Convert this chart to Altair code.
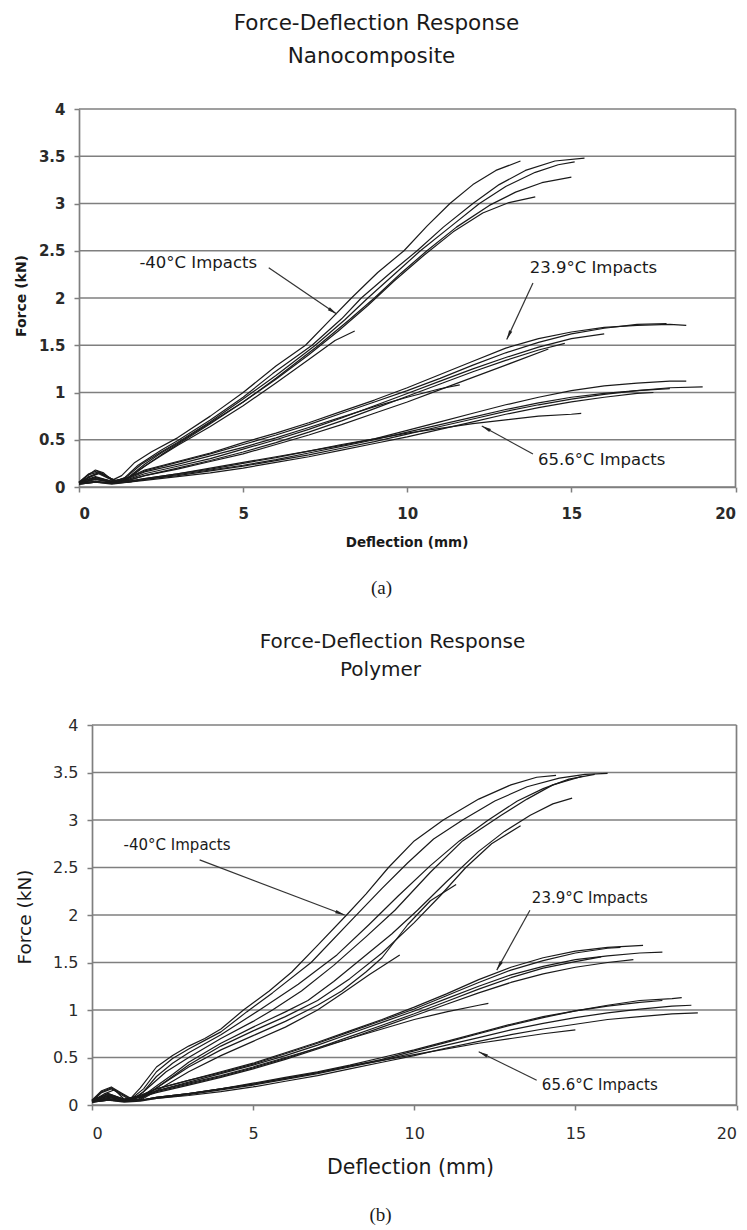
import math
import altair as alt
import pandas as pd

# ---------------- (a) Nanocomposite : force (kN) vs deflection (mm) ----------------
NC_M40_A = [(0,0.04),(0.25,0.12),(0.5,0.18),(0.75,0.15),(1.0,0.07),(1.3,0.12),(1.7,0.26),(2.2,0.37),(3,0.52),(4,0.75),(5,1.0),(6,1.28),(6.9,1.5),(7.6,1.75),(8.3,2.0),(9.1,2.27),(9.9,2.5),(10.6,2.76),(11.3,3.0),(12,3.2),(12.7,3.35),(13.45,3.45)]
NC_M40_B = [(0,0.05),(0.3,0.14),(0.55,0.17),(0.8,0.13),(1.1,0.06),(1.4,0.1),(1.8,0.23),(2.5,0.39),(3,0.49),(4,0.71),(5,0.95),(5.9,1.2),(7.1,1.5),(8.0,1.78),(8.6,2.0),(9.5,2.27),(10.3,2.5),(11.1,2.75),(12.0,3.0),(12.8,3.2),(13.6,3.35),(14.5,3.45),(15.4,3.48)]
NC_M40_C = [(0,0.05),(0.3,0.13),(0.6,0.16),(0.9,0.1),(1.2,0.06),(1.5,0.12),(1.9,0.24),(2.5,0.37),(3,0.47),(4,0.69),(5,0.93),(6,1.18),(7.2,1.5),(8.1,1.77),(8.8,2.0),(9.7,2.28),(10.4,2.5),(11.3,2.75),(12.2,3.0),(13.0,3.18),(13.9,3.33),(14.6,3.41),(15.1,3.44)]
NC_M40_D = [(0,0.04),(0.3,0.11),(0.6,0.15),(0.9,0.1),(1.2,0.05),(1.5,0.1),(2,0.24),(2.5,0.36),(3,0.46),(4,0.68),(5,0.9),(6,1.15),(7.3,1.5),(8.2,1.76),(9.0,2.0),(9.8,2.26),(10.6,2.5),(11.5,2.75),(12.5,2.98),(13.3,3.12),(14.1,3.22),(15.0,3.28)]
NC_M40_E = [(0,0.04),(0.3,0.1),(0.6,0.14),(0.9,0.09),(1.2,0.05),(1.5,0.09),(2,0.22),(2.5,0.34),(3,0.45),(4,0.67),(5,0.9),(6,1.14),(7,1.4),(7.9,1.65),(8.8,1.92),(9.6,2.18),(10.5,2.45),(11.4,2.7),(12.3,2.9),(13.1,3.01),(13.9,3.07)]
NC_M40_F = [(0,0.04),(0.3,0.1),(0.6,0.15),(0.9,0.1),(1.2,0.05),(1.5,0.1),(2,0.22),(2.5,0.33),(3,0.44),(4,0.64),(5,0.86),(6,1.1),(7,1.35),(7.8,1.55),(8.4,1.65)]

NC_23_A = [(0,0.05),(0.5,0.1),(1,0.06),(1.5,0.1),(2,0.18),(3,0.27),(4,0.36),(5,0.47),(6,0.57),(7,0.68),(8,0.8),(9,0.92),(10,1.05),(11,1.19),(12,1.33),(13,1.47),(14,1.57),(15,1.64),(16,1.69),(17,1.71),(18,1.72),(18.5,1.71)]
NC_23_B = [(0,0.05),(0.5,0.11),(1,0.06),(1.5,0.1),(2,0.17),(3,0.26),(4,0.35),(5,0.45),(6,0.55),(7,0.66),(8,0.78),(9,0.9),(10,1.02),(11,1.15),(12,1.29),(13,1.42),(14,1.53),(15,1.62),(16,1.68),(17,1.72),(17.9,1.73)]
NC_23_C = [(0,0.04),(0.5,0.09),(1,0.05),(1.5,0.08),(2,0.14),(3,0.22),(4,0.3),(5,0.4),(6,0.5),(7,0.61),(8,0.73),(9,0.86),(10,0.99),(11,1.12),(12,1.25),(13,1.37),(14,1.48),(15,1.57),(16,1.62)]
NC_23_D = [(0,0.04),(0.5,0.08),(1,0.05),(1.5,0.07),(2,0.12),(3,0.2),(4,0.28),(5,0.37),(6,0.47),(7,0.58),(8,0.7),(9,0.83),(10,0.96),(11,1.09),(12,1.22),(13,1.34),(14,1.45),(14.8,1.52)]
NC_23_E = [(0,0.04),(0.5,0.08),(1,0.05),(1.5,0.07),(2,0.12),(3,0.19),(4,0.27),(5,0.35),(6,0.45),(7,0.55),(8,0.66),(9,0.78),(10,0.9),(11,1.03),(12,1.16),(13,1.29),(14.3,1.46)]
NC_23_F = [(0,0.05),(0.5,0.1),(1,0.06),(1.5,0.09),(2,0.16),(3,0.24),(4,0.33),(5,0.42),(6,0.52),(7,0.63),(8,0.74),(9,0.85),(10,0.95),(11,1.04),(11.6,1.08)]

NC_65_A = [(0,0.04),(0.5,0.06),(1,0.04),(1.5,0.06),(2,0.09),(3,0.14),(4,0.2),(5,0.26),(6,0.32),(7,0.38),(8,0.44),(9,0.51),(10,0.6),(11,0.69),(12,0.78),(13,0.87),(14,0.95),(15,1.02),(16,1.07),(17,1.1),(18,1.12),(18.5,1.12)]
NC_65_B = [(0,0.03),(0.5,0.05),(1,0.04),(1.5,0.05),(2,0.08),(3,0.12),(4,0.17),(5,0.22),(6,0.28),(7,0.34),(8,0.41),(9,0.48),(10,0.56),(11,0.64),(12,0.72),(13,0.8),(14,0.87),(15,0.93),(16,0.98),(17,1.02),(18,1.05),(19,1.06)]
NC_65_C = [(0,0.03),(0.5,0.05),(1,0.03),(1.5,0.05),(2,0.07),(3,0.11),(4,0.15),(5,0.2),(6,0.26),(7,0.32),(8,0.39),(9,0.46),(10,0.53),(11,0.61),(12,0.69),(13,0.77),(14,0.84),(15,0.9),(16,0.95),(17,0.99),(17.5,1.0)]
NC_65_D = [(0,0.04),(0.5,0.06),(1,0.04),(1.5,0.06),(2,0.09),(3,0.14),(4,0.19),(5,0.25),(6,0.31),(7,0.38),(8,0.45),(9,0.51),(10,0.57),(11,0.62),(12,0.67),(13,0.71),(14,0.75),(15,0.77),(15.3,0.78)]
NC_65_E = [(0,0.03),(0.5,0.05),(1,0.04),(1.5,0.05),(2,0.08),(3,0.13),(4,0.18),(5,0.23),(6,0.29),(7,0.36),(8,0.43),(9,0.5),(10,0.58),(11,0.66),(12,0.74),(13,0.82),(14,0.89),(15,0.95),(16,0.99),(17,1.02),(18,1.04)]

# ---------------- (b) Polymer ----------------
PM_M40_A = [(0,0.05),(0.3,0.15),(0.6,0.19),(0.9,0.13),(1.2,0.07),(1.5,0.18),(2,0.4),(2.5,0.52),(3,0.62),(3.5,0.7),(4,0.8),(4.7,1.0),(5.5,1.2),(6.2,1.4),(7,1.68),(7.9,2.0),(8.5,2.22),(9.2,2.5),(10,2.78),(10.9,3.0),(12,3.22),(13,3.37),(13.8,3.45),(14.4,3.47)]
PM_M40_B = [(0,0.04),(0.3,0.14),(0.6,0.18),(0.9,0.12),(1.2,0.06),(1.6,0.17),(2,0.35),(2.5,0.49),(3,0.59),(3.5,0.68),(4,0.77),(4.8,0.98),(5.6,1.18),(6.8,1.5),(8.15,1.98),(9.0,2.28),(9.8,2.55),(10.6,2.8),(11.5,3.0),(12.5,3.2),(13.5,3.35),(14.5,3.44),(15.3,3.48),(16,3.49)]
PM_M40_C = [(0,0.04),(0.3,0.13),(0.6,0.17),(0.9,0.11),(1.2,0.05),(1.6,0.14),(2,0.3),(2.5,0.44),(3,0.55),(4,0.74),(5.2,1.0),(6.4,1.27),(7.6,1.58),(8.6,1.9),(9.5,2.2),(10.5,2.52),(11.4,2.78),(12.3,3.0),(13.2,3.2),(14,3.33),(14.8,3.43),(15.6,3.48)]
PM_M40_D = [(0,0.04),(0.4,0.12),(0.7,0.16),(1.0,0.06),(1.3,0.05),(1.8,0.2),(2.3,0.35),(3,0.5),(4,0.7),(5,0.88),(5.6,1.0),(6.5,1.2),(7.5,1.47),(8.5,1.77),(9.4,2.05),(10.5,2.45),(11.5,2.78),(12.7,3.05),(13.5,3.22),(14.3,3.37),(15.2,3.46)]
PM_M40_E = [(0,0.03),(0.5,0.1),(1,0.05),(1.4,0.05),(2,0.2),(2.5,0.32),(3,0.45),(4,0.65),(5,0.82),(6,0.98),(6.7,1.1),(7.5,1.3),(8.4,1.55),(9.3,1.8),(10.1,2.05),(11,2.35),(12,2.67),(12.8,2.88),(13.6,3.05),(14.3,3.17),(14.9,3.23)]
PM_M40_F = [(0,0.03),(0.5,0.08),(1,0.05),(1.5,0.06),(2,0.18),(3,0.42),(4,0.62),(5,0.78),(6,0.93),(7,1.1),(8,1.33),(9,1.6),(10,1.92),(10.8,2.2),(11.6,2.5),(12.4,2.75),(13.3,2.94)]
PM_M40_G = [(0,0.03),(0.5,0.08),(1,0.05),(1.5,0.06),(2,0.18),(3,0.4),(4,0.58),(5,0.73),(6,0.88),(7,1.05),(7.75,1.2),(8.5,1.4),(9.0,1.55),(9.8,1.9),(10.5,2.15),(11.3,2.32)]
PM_M40_H = [(0,0.03),(0.5,0.07),(1,0.04),(1.5,0.05),(2,0.15),(3,0.35),(4,0.52),(5,0.67),(6,0.82),(7,1.0),(7.75,1.17),(8.6,1.37),(9.55,1.58)]

PM_23_A = [(0,0.05),(0.5,0.12),(1,0.06),(1.5,0.1),(2,0.17),(3,0.26),(4,0.35),(5,0.44),(6,0.55),(7,0.66),(8,0.78),(9,0.9),(10,1.03),(11,1.17),(12,1.32),(13,1.45),(14,1.55),(15,1.62),(16,1.66),(17.1,1.68)]
PM_23_B = [(0,0.05),(0.5,0.11),(1,0.06),(1.5,0.09),(2,0.15),(3,0.24),(4,0.33),(5,0.42),(6,0.52),(7,0.63),(8,0.75),(9,0.87),(10,0.99),(11,1.12),(12,1.25),(13,1.37),(14,1.46),(15,1.53),(16,1.57),(17,1.6),(17.7,1.61)]
PM_23_C = [(0,0.04),(0.5,0.09),(1,0.05),(1.5,0.08),(2,0.13),(3,0.21),(4,0.29),(5,0.38),(6,0.48),(7,0.59),(8,0.7),(9,0.82),(10,0.94),(11,1.06),(12,1.18),(13,1.29),(14,1.38),(15,1.45),(16,1.5),(16.8,1.53)]
PM_23_D = [(0,0.05),(0.5,0.12),(1,0.06),(1.5,0.1),(2,0.17),(3,0.26),(4,0.34),(5,0.43),(6,0.54),(7,0.65),(8,0.77),(9,0.89),(10,1.01),(11,1.15),(12,1.29),(13,1.42),(14,1.52),(15,1.6),(16,1.65),(16.4,1.66)]
PM_23_E = [(0,0.04),(0.5,0.1),(1,0.05),(1.5,0.08),(2,0.14),(3,0.22),(4,0.3),(5,0.39),(6,0.49),(7,0.6),(8,0.72),(9,0.84),(10,0.96),(11,1.09),(12,1.22),(13,1.34),(14,1.44),(15,1.51),(15.8,1.56)]
PM_23_F = [(0,0.05),(0.5,0.1),(1,0.06),(1.5,0.09),(2,0.15),(3,0.23),(4,0.31),(5,0.4),(6,0.5),(7,0.6),(8,0.7),(9,0.8),(10,0.9),(11,0.98),(12,1.05),(12.3,1.07)]

PM_65_A = [(0,0.04),(0.5,0.06),(1,0.04),(1.5,0.05),(2,0.08),(3,0.12),(4,0.17),(5,0.22),(6,0.28),(7,0.34),(8,0.41),(9,0.48),(10,0.57),(11,0.66),(12,0.75),(13,0.84),(14,0.92),(15,0.99),(16,1.05),(17,1.1),(18,1.12),(18.3,1.13)]
PM_65_B = [(0,0.03),(0.5,0.05),(1,0.04),(1.5,0.05),(2,0.07),(3,0.11),(4,0.16),(5,0.21),(6,0.27),(7,0.33),(8,0.4),(9,0.47),(10,0.55),(11,0.63),(12,0.71),(13,0.79),(14,0.86),(15,0.92),(16,0.97),(17,1.01),(18,1.04),(18.6,1.05)]
PM_65_C = [(0,0.03),(0.5,0.05),(1,0.03),(1.5,0.04),(2,0.07),(3,0.1),(4,0.14),(5,0.19),(6,0.25),(7,0.31),(8,0.38),(9,0.45),(10,0.52),(11,0.6),(12,0.67),(13,0.74),(14,0.8),(15,0.85),(16,0.9),(17,0.93),(18,0.96),(18.8,0.97)]
PM_65_D = [(0,0.04),(0.5,0.06),(1,0.04),(1.5,0.05),(2,0.08),(3,0.12),(4,0.17),(5,0.22),(6,0.28),(7,0.34),(8,0.41),(9,0.47),(10,0.53),(11,0.59),(12,0.65),(13,0.7),(14,0.75),(15,0.79)]
PM_65_E = [(0,0.03),(0.5,0.05),(1,0.04),(1.5,0.05),(2,0.08),(3,0.12),(4,0.17),(5,0.23),(6,0.29),(7,0.35),(8,0.42),(9,0.5),(10,0.58),(11,0.67),(12,0.76),(13,0.85),(14,0.93),(15,0.99),(16,1.04),(17,1.08),(17.7,1.1)]

# ---------------- annotations (data coordinates) ----------------
LABELS = ["-40°C Impacts", "23.9°C Impacts", "65.6°C Impacts"]
TOP_LABEL_X = [1.84, 13.73, 13.98]
TOP_LABEL_Y = [2.37, 2.32, 0.29]
TOP_FROM_X = [5.78, 13.83, 13.83]
TOP_FROM_Y = [2.32, 2.16, 0.35]
TOP_TIP_X = [7.85, 13.03, 12.27]
TOP_TIP_Y = [1.83, 1.56, 0.645]

BOT_LABEL_X = [0.98, 13.65, 13.96]
BOT_LABEL_Y = [2.74, 2.18, 0.21]
BOT_FROM_X = [3.34, 13.59, 13.8]
BOT_FROM_Y = [2.58, 2.05, 0.26]
BOT_TIP_X = [7.84, 12.56, 12.0]
BOT_TIP_Y = [2.0, 1.42, 0.56]

X_TICKS = [0, 5, 10, 15, 20]
Y_TICKS = [0, 0.5, 1, 1.5, 2, 2.5, 3, 3.5, 4]

TOP_CURVES = {"NC_M40_A": NC_M40_A, "NC_M40_B": NC_M40_B, "NC_M40_C": NC_M40_C,
              "NC_M40_D": NC_M40_D, "NC_M40_E": NC_M40_E, "NC_M40_F": NC_M40_F,
              "NC_23_A": NC_23_A, "NC_23_B": NC_23_B, "NC_23_C": NC_23_C,
              "NC_23_D": NC_23_D, "NC_23_E": NC_23_E, "NC_23_F": NC_23_F,
              "NC_65_A": NC_65_A, "NC_65_B": NC_65_B, "NC_65_C": NC_65_C,
              "NC_65_D": NC_65_D, "NC_65_E": NC_65_E}
BOT_CURVES = {"PM_M40_A": PM_M40_A, "PM_M40_B": PM_M40_B, "PM_M40_C": PM_M40_C,
              "PM_M40_D": PM_M40_D, "PM_M40_E": PM_M40_E, "PM_M40_F": PM_M40_F,
              "PM_M40_G": PM_M40_G, "PM_M40_H": PM_M40_H,
              "PM_23_A": PM_23_A, "PM_23_B": PM_23_B, "PM_23_C": PM_23_C,
              "PM_23_D": PM_23_D, "PM_23_E": PM_23_E, "PM_23_F": PM_23_F,
              "PM_65_A": PM_65_A, "PM_65_B": PM_65_B, "PM_65_C": PM_65_C,
              "PM_65_D": PM_65_D, "PM_65_E": PM_65_E}

FONT = "DejaVu Sans"
GRID = "#7f7f7f"
INK = "#1a1a1a"
ARROW_HEAD = "M0,0L0.36,2L-0.36,2Z"

alt.data_transformers.disable_max_rows()


def curves_df(curves):
    rows = []
    for name, pts in curves.items():
        for i, (x, y) in enumerate(pts):
            rows.append({"curve": name, "i": i, "x": x, "y": y})
    return pd.DataFrame(rows)


def ann_df(lx, ly, fx, fy, tx, ty, sx, sy):
    ang = []
    for a, b, c, d in zip(fx, fy, tx, ty):
        dx = (c - a) * sx
        dy = -(d - b) * sy
        ang.append((math.degrees(math.atan2(dx, -dy)) + 360) % 360)
    return pd.DataFrame({"label": LABELS, "lx": lx, "ly": ly, "fx": fx, "fy": fy,
                         "tx": tx, "ty": ty, "ang": ang})


def one():
    return pd.DataFrame({"k": [0]})


def txt(text, x, y, size, weight="normal", font=FONT, angle=0):
    kw = dict(font=font, fontSize=size, fontWeight=weight, color=INK,
              align="center", baseline="middle")
    if angle:
        kw["angle"] = angle
    return alt.Chart(one()).mark_text(**kw).encode(
        x=alt.value(x), y=alt.value(y), text=alt.value(text))


def anchor(x, y):
    return alt.Chart(one()).mark_point(
        filled=True, size=1, opacity=0, strokeWidth=0).encode(
        x=alt.value(x), y=alt.value(y))


def panel(curves, w, h, x0px, ann_cols, tick_size, tick_weight, ann_size, texts, anchors, xpad):
    # x0px: pixel where deflection 0 sits (left axis position)
    xscale = alt.Scale(domain=[0, 20], range=[x0px, w], nice=False, zero=False)
    yscale = alt.Scale(domain=[0, 4], nice=False, zero=False)
    common = dict(labelFont=FONT, labelFontSize=tick_size, labelFontWeight=tick_weight,
                  labelColor="#2a2a2a", domainColor=GRID, domainWidth=1.7,
                  tickColor=GRID, tickWidth=1.5, tickSize=5, title=None, grid=False)
    x_axis = alt.Axis(values=X_TICKS, labelPadding=xpad, **common)
    y_axis = alt.Axis(values=Y_TICKS, format="~g", labelPadding=9, offset=-x0px, **common)
    sx, sy = (w - x0px) / 20.0, h / 4.0
    ann = ann_df(*ann_cols, sx, sy)

    grid = alt.Chart(pd.DataFrame({"v": Y_TICKS})).mark_rule(
        color=GRID, strokeWidth=1.7).encode(
        y=alt.Y("v:Q", scale=yscale, axis=y_axis),
        x=alt.datum(0, scale=xscale), x2=alt.datum(20))
    border = alt.Chart(one()).mark_rule(color=GRID, strokeWidth=1.7).encode(
        x=alt.datum(20), y=alt.datum(0), y2=alt.datum(4))
    lines = alt.Chart(curves_df(curves)).mark_line(
        color=INK, strokeWidth=1.2, strokeJoin="round").encode(
        x=alt.X("x:Q", scale=xscale, axis=x_axis),
        y=alt.Y("y:Q", scale=yscale, axis=y_axis),
        detail="curve:N", order="i:Q")
    rules = alt.Chart(ann).mark_rule(color="#333333", strokeWidth=1.2).encode(
        x=alt.X("fx:Q", scale=xscale, axis=x_axis), y=alt.Y("fy:Q", scale=yscale, axis=y_axis),
        x2="tx:Q", y2="ty:Q")
    heads = alt.Chart(ann).mark_point(shape=ARROW_HEAD, filled=True, size=90,
                                      color="#222222", opacity=1).encode(
        x=alt.X("tx:Q", scale=xscale, axis=x_axis), y=alt.Y("ty:Q", scale=yscale, axis=y_axis),
        angle=alt.Angle("ang:Q", scale=None))
    labels = alt.Chart(ann).mark_text(font=FONT, fontSize=ann_size, color=INK,
                                      align="left", baseline="middle").encode(
        x=alt.X("lx:Q", scale=xscale, axis=x_axis), y=alt.Y("ly:Q", scale=yscale, axis=y_axis),
        text="label:N")
    layers = [grid, border, lines, rules, heads, labels] + texts + anchors
    return alt.layer(*layers).properties(width=w, height=h)


# both panels share the plot origin at x = 77.5 px; the polymer panel's
# deflection axis starts 13 px further right, as in the figure
top = panel(
    TOP_CURVES, 656.5, 378, 0,
    (TOP_LABEL_X, TOP_LABEL_Y, TOP_FROM_X, TOP_FROM_Y, TOP_TIP_X, TOP_TIP_Y),
    15, "bold", 16.5,
    [txt("Force-Deflection Response", 297.5, -85, 21.5),
     txt("Nanocomposite", 292.5, -52, 21.5),
     txt("Deflection (mm)", 328, 434, 13.5, "bold"),
     txt("Force (kN)", -57, 187, 14, "bold", angle=270),
     txt("(a)", 302.5, 479, 19, font="Liberation Serif")],
    [anchor(-77.5, -108), anchor(-77.5, 509)], 14)

bottom = panel(
    BOT_CURVES, 657.5, 380, 13,
    (BOT_LABEL_X, BOT_LABEL_Y, BOT_FROM_X, BOT_FROM_Y, BOT_TIP_X, BOT_TIP_Y),
    16, "normal", 15,
    [txt("Force-Deflection Response", 313.5, -83, 20),
     txt("Polymer", 301.5, -55, 20),
     txt("Deflection (mm)", 331.5, 443, 20.5),
     txt("Force (kN)", -54.5, 192, 18.5, angle=270),
     txt("(b)", 301.5, 490, 19, font="Liberation Serif")],
    [anchor(-77.5, -105)], 15)

chart = alt.vconcat(top, bottom, spacing=0).properties(
    padding=0, background="white"
).configure_view(stroke="transparent")

chart.save("out.html", embed_options={"renderer": "svg", "actions": False})
